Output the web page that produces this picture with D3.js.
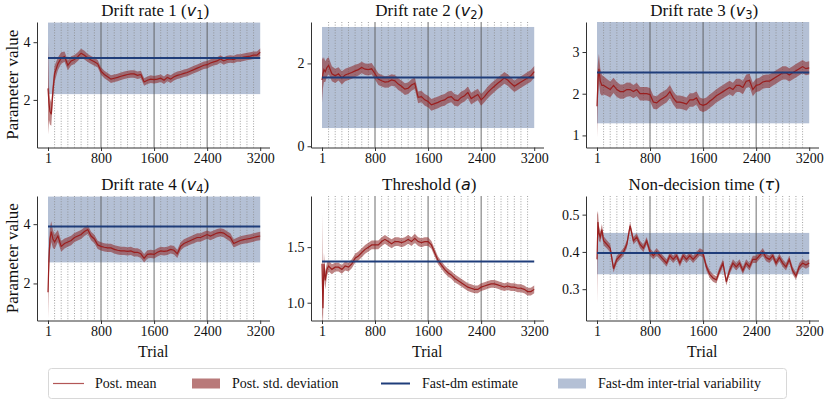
<!DOCTYPE html>
<html>
<head>
  <meta charset="utf-8">
  <title>Parameter trajectories</title>
  <script src="https://d3js.org/d3.v7.min.js"></script>
  <style>
    body { margin: 0; background: #fff; }
    svg text { font-family: "Liberation Serif", serif; fill: #111; }
  </style>
</head>
<body>
  <svg id="chart"></svg>

  <script>
    // trial index of every sample
    const trials = [1, 15, 30, 50, 75, 100,
      150, 200, 250, 300, 350, 400, 450, 500, 550, 600, 650, 700, 750, 800,
      850, 900, 950, 1000, 1050, 1100, 1150, 1200, 1250, 1300, 1350, 1400, 1450, 1500, 1550, 1600,
      1650, 1700, 1750, 1800, 1850, 1900, 1950, 2000, 2050, 2100, 2150, 2200, 2250, 2300, 2350, 2400,
      2450, 2500, 2550, 2600, 2650, 2700, 2750, 2800, 2850, 2900, 2950, 3000, 3050, 3100, 3150, 3200];

    const v1Mean = [2.4, 1.9, 1.6, 1.5, 2.3, 2.9,
      3.25, 3.45, 3.5, 3.2, 3.35, 3.4, 3.5, 3.62, 3.55, 3.45, 3.38, 3.32, 3.25, 3.0,
      2.88, 2.8, 2.72, 2.75, 2.78, 2.82, 2.85, 2.88, 2.9, 2.9, 2.85, 2.88, 2.62, 2.68, 2.72, 2.7,
      2.72, 2.75, 2.68, 2.78, 2.72, 2.8, 2.85, 2.88, 2.92, 2.95, 3.0, 3.05, 3.1, 3.15, 3.2, 3.22,
      3.28, 3.32, 3.35, 3.42, 3.35, 3.4, 3.42, 3.4, 3.45, 3.45, 3.48, 3.5, 3.52, 3.55, 3.55, 3.65];
    const v1Sd = [1.6, 0.6, 0.45, 0.4, 0.32, 0.28,
      0.22, 0.2, 0.18, 0.17, 0.16, 0.16, 0.15, 0.15, 0.15, 0.14, 0.14, 0.14, 0.13, 0.13,
      0.13, 0.13, 0.13, 0.13, 0.13, 0.13, 0.13, 0.13, 0.13, 0.13, 0.13, 0.13, 0.13, 0.13, 0.13, 0.13,
      0.13, 0.13, 0.13, 0.13, 0.13, 0.13, 0.13, 0.13, 0.13, 0.13, 0.13, 0.13, 0.13, 0.13, 0.13, 0.13,
      0.13, 0.13, 0.13, 0.13, 0.13, 0.13, 0.13, 0.13, 0.13, 0.13, 0.13, 0.13, 0.13, 0.13, 0.13, 0.13];

    const v2Mean = [1.6, 1.75, 1.85, 1.8, 1.9, 1.95,
      1.75, 1.7, 1.75, 1.65, 1.72, 1.75, 1.78, 1.82, 1.85, 1.9, 1.86, 1.85, 1.87, 1.75,
      1.62, 1.58, 1.55, 1.56, 1.6, 1.58, 1.5, 1.45, 1.38, 1.4, 1.48, 1.52, 1.18, 1.2, 1.12, 1.08,
      1.0, 1.03, 1.06, 1.1, 1.12, 1.18, 1.2, 1.12, 1.1, 1.18, 1.22, 1.3, 1.15, 1.2, 1.25, 1.12,
      1.2, 1.3, 1.38, 1.45, 1.52, 1.58, 1.65, 1.6, 1.52, 1.45, 1.5, 1.55, 1.6, 1.65, 1.7, 1.8];
    const v2Sd = [0.55, 0.35, 0.3, 0.25, 0.22, 0.2,
      0.18, 0.17, 0.16, 0.16, 0.15, 0.15, 0.15, 0.15, 0.14, 0.14, 0.14, 0.14, 0.14, 0.14,
      0.14, 0.14, 0.14, 0.14, 0.14, 0.14, 0.14, 0.14, 0.14, 0.14, 0.14, 0.14, 0.14, 0.14, 0.14, 0.14,
      0.14, 0.14, 0.14, 0.14, 0.14, 0.14, 0.14, 0.14, 0.14, 0.14, 0.14, 0.14, 0.14, 0.14, 0.14, 0.14,
      0.14, 0.14, 0.14, 0.14, 0.14, 0.14, 0.14, 0.14, 0.14, 0.14, 0.14, 0.14, 0.14, 0.14, 0.14, 0.14];

    const v3Mean = [1.7, 2.3, 2.6, 2.3, 2.2, 2.2,
      2.15, 2.1, 2.2, 2.1, 2.05, 2.05, 2.1, 2.1, 2.05, 2.1, 2.0, 2.0, 2.0, 1.98,
      1.8, 1.78, 1.85, 1.9, 1.95, 2.05, 1.9, 1.8, 1.8, 1.78, 1.75, 1.85, 1.85, 1.9, 1.75, 1.72,
      1.75, 1.82, 1.88, 1.95, 2.0, 2.05, 2.1, 2.15, 2.1, 2.2, 2.2, 2.15, 2.3, 2.32, 2.1, 2.2,
      2.22, 2.28, 2.3, 2.3, 2.35, 2.4, 2.45, 2.5, 2.5, 2.45, 2.5, 2.55, 2.6, 2.65, 2.6, 2.62];
    const v3Sd = [0.75, 0.45, 0.35, 0.3, 0.25, 0.22,
      0.2, 0.19, 0.18, 0.18, 0.17, 0.17, 0.17, 0.16, 0.16, 0.16, 0.16, 0.16, 0.16, 0.16,
      0.16, 0.16, 0.16, 0.16, 0.16, 0.16, 0.16, 0.16, 0.16, 0.16, 0.16, 0.16, 0.16, 0.16, 0.16, 0.16,
      0.16, 0.16, 0.16, 0.16, 0.16, 0.16, 0.16, 0.16, 0.16, 0.16, 0.16, 0.16, 0.16, 0.16, 0.16, 0.16,
      0.16, 0.16, 0.16, 0.16, 0.16, 0.16, 0.16, 0.16, 0.16, 0.16, 0.16, 0.16, 0.16, 0.16, 0.16, 0.16];

    const v4Mean = [1.7, 2.8, 3.5, 3.75, 3.5, 3.4,
      3.6, 3.25, 3.35, 3.4, 3.45, 3.55, 3.6, 3.65, 3.75, 3.82, 3.6, 3.5, 3.3, 3.25,
      3.22, 3.2, 3.2, 3.15, 3.12, 3.1, 3.1, 3.08, 3.1, 3.05, 3.05, 3.0, 2.85, 2.98, 3.0, 2.98,
      3.05, 3.1, 3.08, 3.1, 3.15, 3.12, 3.0, 3.25, 3.35, 3.4, 3.45, 3.5, 3.55, 3.55, 3.6, 3.65,
      3.6, 3.65, 3.7, 3.72, 3.7, 3.62, 3.55, 3.35, 3.4, 3.45, 3.48, 3.5, 3.52, 3.55, 3.58, 3.6];
    const v4Sd = [0.9, 0.5, 0.4, 0.35, 0.3, 0.25,
      0.2, 0.18, 0.17, 0.16, 0.16, 0.15, 0.15, 0.15, 0.15, 0.15, 0.14, 0.14, 0.14, 0.14,
      0.14, 0.14, 0.14, 0.14, 0.14, 0.14, 0.14, 0.14, 0.14, 0.14, 0.14, 0.14, 0.14, 0.14, 0.14, 0.14,
      0.14, 0.14, 0.14, 0.14, 0.14, 0.14, 0.14, 0.14, 0.14, 0.14, 0.14, 0.14, 0.14, 0.14, 0.14, 0.14,
      0.14, 0.14, 0.14, 0.14, 0.14, 0.14, 0.14, 0.14, 0.14, 0.14, 0.14, 0.14, 0.14, 0.14, 0.14, 0.14];

    const aMean = [1.35, 0.95, 1.35, 1.2, 1.3, 1.33,
      1.3, 1.32, 1.32, 1.3, 1.33, 1.32, 1.35, 1.4, 1.42, 1.45, 1.48, 1.5, 1.52, 1.52,
      1.52, 1.55, 1.57, 1.55, 1.53, 1.55, 1.55, 1.54, 1.55, 1.57, 1.55, 1.58, 1.55, 1.54, 1.55, 1.55,
      1.52, 1.45, 1.38, 1.34, 1.3, 1.27, 1.25, 1.22, 1.2, 1.18, 1.16, 1.14, 1.13, 1.12, 1.12, 1.14,
      1.15, 1.16, 1.17, 1.17, 1.16, 1.15, 1.14, 1.15, 1.14, 1.14, 1.13, 1.13, 1.12, 1.1, 1.1, 1.12];
    const aSd = [0.45, 0.15, 0.1, 0.08, 0.06, 0.05,
      0.045, 0.04, 0.04, 0.04, 0.04, 0.04, 0.04, 0.04, 0.04, 0.04, 0.04, 0.04, 0.04, 0.04,
      0.04, 0.04, 0.04, 0.04, 0.04, 0.04, 0.04, 0.04, 0.04, 0.04, 0.04, 0.04, 0.04, 0.04, 0.04, 0.04,
      0.035, 0.035, 0.035, 0.035, 0.035, 0.035, 0.035, 0.035, 0.035, 0.035, 0.035, 0.035, 0.035, 0.035, 0.035, 0.035,
      0.035, 0.035, 0.035, 0.035, 0.035, 0.035, 0.035, 0.035, 0.035, 0.035, 0.035, 0.035, 0.035, 0.035, 0.035, 0.035];

    const tauMean = [0.38, 0.48, 0.45, 0.44, 0.46, 0.43,
      0.42, 0.41, 0.355, 0.38, 0.39, 0.40, 0.42, 0.47, 0.43, 0.44, 0.42, 0.41, 0.43, 0.40,
      0.39, 0.40, 0.39, 0.38, 0.37, 0.39, 0.38, 0.39, 0.37, 0.39, 0.38, 0.39, 0.38, 0.39, 0.40, 0.395,
      0.36, 0.34, 0.33, 0.325, 0.35, 0.37, 0.32, 0.35, 0.37, 0.36, 0.37, 0.35, 0.37, 0.36, 0.38, 0.38,
      0.39, 0.40, 0.385, 0.38, 0.39, 0.37, 0.385, 0.37, 0.36, 0.38, 0.35, 0.335, 0.36, 0.37, 0.365, 0.37];
    const tauSd = [0.12, 0.03, 0.02, 0.015, 0.015, 0.012,
      0.011, 0.011, 0.01, 0.01, 0.01, 0.01, 0.01, 0.01, 0.01, 0.01, 0.01, 0.01, 0.01, 0.01,
      0.01, 0.01, 0.01, 0.01, 0.01, 0.01, 0.01, 0.01, 0.01, 0.01, 0.01, 0.01, 0.01, 0.01, 0.01, 0.01,
      0.01, 0.01, 0.01, 0.01, 0.01, 0.01, 0.01, 0.01, 0.01, 0.01, 0.01, 0.01, 0.01, 0.01, 0.01, 0.01,
      0.01, 0.01, 0.01, 0.01, 0.01, 0.01, 0.01, 0.01, 0.01, 0.01, 0.01, 0.01, 0.01, 0.01, 0.01, 0.01];

    // fast-dm point estimates and inter-trial variability range (null = none)
    const fastdmEst  = [3.45, 1.66, 2.51, 3.92, 1.37, 0.397];
    const fastdmLow  = [2.2, 0.44, 1.29, 2.71, null, 0.34];
    const fastdmHigh = [4.68, 2.88, 3.72, 4.93, null, 0.451];

    const yDomains = [[0.35, 4.7], [-0.03, 3.0], [0.71, 3.72], [0.75, 4.95], [0.84, 1.96], [0.216, 0.55]];
    const yTicks = [[2, 4], [0, 2], [1, 2, 3], [2, 4], [1.0, 1.5], [0.3, 0.4, 0.5]];
    const xTicks = [1, 800, 1600, 2400, 3200];
    const blockTrials = [800, 1600, 2400];

    const titles = [
      ["Drift rate 1 (", "v", "1", ")"],
      ["Drift rate 2 (", "v", "2", ")"],
      ["Drift rate 3 (", "v", "3", ")"],
      ["Drift rate 4 (", "v", "4", ")"],
      ["Threshold (", "a", "", ")"],
      ["Non-decision time (", "τ", "", ")"]
    ];
    const means = [v1Mean, v2Mean, v3Mean, v4Mean, aMean, tauMean];
    const sds = [v1Sd, v2Sd, v3Sd, v4Sd, aSd, tauSd];

    const serif = "'Liberation Serif', serif";
    const mathFont = "'DejaVu Sans', sans-serif";

    const width = 831, height = 405;
    const svg = d3.select("#chart").attr("width", width).attr("height", height);

    const colLeft = [37, 311, 586];
    const rowTop = [22, 196], rowBottom = [147.5, 320.5];
    const panelW = 232.5;

    const meanColor = "#9a1f1f", sdColor = "#8b2222", estColor = "#1f3d7a", bandColor = "#b4c0d5";

    means.forEach((mean, i) => {
      const col = i % 3, row = Math.floor(i / 3);
      const x0 = colLeft[col], top = rowTop[row], bottom = rowBottom[row];
      const x = d3.scaleLinear().domain([-165, 3340]).range([x0, x0 + panelW]);
      const y = d3.scaleLinear().domain(yDomains[i]).range([bottom, top]);
      const g = svg.append("g");

      // fast-dm variability band
      if (fastdmLow[i] !== null) {
        g.append("rect")
          .attr("x", x(1)).attr("width", x(3200) - x(1))
          .attr("y", y(fastdmHigh[i])).attr("height", y(fastdmLow[i]) - y(fastdmHigh[i]))
          .attr("fill", bandColor);
      }

      // block separators
      g.selectAll(".grid").data(d3.range(100, 3200, 100).filter(t => !blockTrials.includes(t)))
        .enter().append("line")
        .attr("x1", d => x(d)).attr("x2", d => x(d))
        .attr("y1", top).attr("y2", bottom)
        .attr("stroke", "#8a8a8a").attr("stroke-width", 0.8).attr("stroke-dasharray", "1,1.6");
      g.selectAll(".block").data(blockTrials)
        .enter().append("line")
        .attr("x1", d => x(d)).attr("x2", d => x(d))
        .attr("y1", top).attr("y2", bottom)
        .attr("stroke", "#555").attr("stroke-width", 1).attr("opacity", 0.85);

      const sd = sds[i];
      const area = d3.area()
        .x((d, j) => x(trials[j]))
        .y0((d, j) => y(d - sd[j]))
        .y1((d, j) => y(d + sd[j]));
      g.append("path").datum(mean)
        .attr("d", area)
        .attr("fill", sdColor).attr("fill-opacity", 0.55);

      const line = d3.line().x((d, j) => x(trials[j])).y(d => y(d));
      g.append("path").datum(mean)
        .attr("d", line)
        .attr("fill", "none").attr("stroke", meanColor).attr("stroke-width", 1.2);

      g.append("line")
        .attr("x1", x(1)).attr("x2", x(3200))
        .attr("y1", y(fastdmEst[i])).attr("y2", y(fastdmEst[i]))
        .attr("stroke", estColor).attr("stroke-width", 2);

      // axes
      const xAxis = g.append("g")
        .attr("transform", `translate(0,${bottom})`)
        .call(d3.axisBottom(x).tickValues(xTicks).tickFormat(d3.format("d"))
          .tickSize(3.5).tickPadding(2).tickSizeOuter(0));
      const yAxis = g.append("g")
        .attr("transform", `translate(${x0},0)`)
        .call(d3.axisLeft(y).tickValues(yTicks[i]).tickSize(3.5).tickPadding(3).tickSizeOuter(0)
          .tickFormat(yTicks[i].some(v => v % 1 !== 0) ? d3.format(".1f") : d3.format("d")));
      [xAxis, yAxis].forEach(a => {
        a.attr("font-family", null).attr("font-size", null);
        a.select(".domain").attr("stroke", "#333").attr("stroke-width", 1);
        a.selectAll(".tick line").attr("stroke", "#333");
        a.selectAll(".tick text")
          .style("font-family", serif).style("font-size", "14px").attr("fill", "#111");
      });

      // title with math symbol
      const t = titles[i];
      const title = g.append("text")
        .attr("x", x0 + panelW / 2 + 2).attr("y", top - 6)
        .attr("text-anchor", "middle")
        .style("font-family", serif).style("font-size", "17px");
      title.append("tspan").text(t[0]);
      title.append("tspan").text(t[1])
        .style("font-family", mathFont).style("font-style", "italic").style("font-size", "16px");
      if (t[2]) {
        title.append("tspan").text(t[2])
          .style("font-family", mathFont).style("font-size", "11.5px").attr("dy", 3);
        title.append("tspan").text(t[3]).attr("dy", -3);
      } else {
        title.append("tspan").text(t[3]);
      }

      if (row === 1) {
        g.append("text")
          .attr("x", x0 + panelW / 2).attr("y", 357)
          .attr("text-anchor", "middle")
          .style("font-family", serif).style("font-size", "16px")
          .text("Trial");
      }
      if (col === 0) {
        g.append("text")
          .attr("transform", `translate(18,${(top + bottom) / 2}) rotate(-90)`)
          .attr("text-anchor", "middle")
          .style("font-family", serif).style("font-size", "17px")
          .text("Parameter value");
      }
    });

    // legend
    const legend = svg.append("g");
    legend.append("rect")
      .attr("x", 48.5).attr("y", 368.5).attr("width", 738).attr("height", 30).attr("rx", 3)
      .attr("fill", "#fff").attr("stroke", "#d8d8d8");
    const ly = 383.5;
    legend.append("line").attr("x1", 53).attr("x2", 84).attr("y1", ly).attr("y2", ly)
      .attr("stroke", meanColor).attr("stroke-width", 1.2).attr("opacity", 0.75);
    legend.append("rect").attr("x", 192).attr("y", ly - 5).attr("width", 28).attr("height", 10)
      .attr("fill", sdColor).attr("fill-opacity", 0.6);
    legend.append("line").attr("x1", 381).attr("x2", 410).attr("y1", ly).attr("y2", ly)
      .attr("stroke", estColor).attr("stroke-width", 2);
    legend.append("rect").attr("x", 558).attr("y", ly - 5).attr("width", 28).attr("height", 10)
      .attr("fill", bandColor);
    const legendText = [[95, "Post. mean"], [232, "Post. std. deviation"], [422, "Fast-dm estimate"], [598, "Fast-dm inter-trial variability"]];
    legendText.forEach(([lx, label]) => {
      legend.append("text").attr("x", lx).attr("y", ly + 4.5)
        .style("font-family", serif).style("font-size", "14px")
        .text(label);
    });
  </script>
</body>
</html>
